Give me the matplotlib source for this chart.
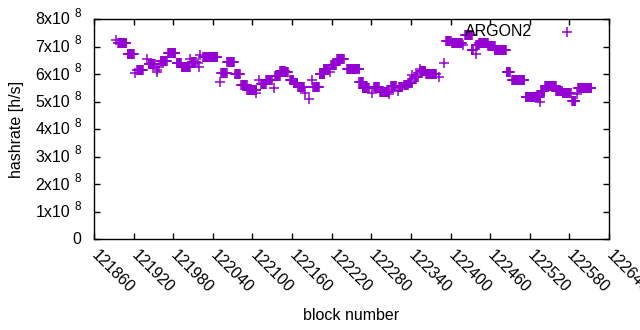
"""
Hashrate per block (ARGON2), gnuplot-like look
"""

import numpy as np
import matplotlib
matplotlib.use("Agg")
import matplotlib.pyplot as plt

# runs of blocks with the same hashrate: first block, number of blocks, hashrate (x1e8 h/s)
run_start = [121894, 121897, 121911, 121922, 121925, 121940, 121943, 121955, 121956, 121959,
             121961, 121972, 121985, 121993, 122006, 122008, 122018, 122019, 122021, 122025,
             122051, 122053, 122062, 122074, 122083, 122092, 122105, 122110, 122113, 122121,
             122132, 122134, 122142, 122149, 122157, 122163, 122169, 122180, 122185, 122190,
             122192, 122202, 122208, 122218, 122219, 122228, 122243, 122262, 122267, 122281,
             122284, 122293, 122307, 122310, 122320, 122322, 122330, 122336, 122342, 122345,
             122353, 122354, 122363, 122383, 122390, 122393, 122402, 122419, 122422, 122432,
             122438, 122439, 122443, 122457, 122467, 122485, 122493, 122514, 122535, 122537,
             122543, 122560, 122570, 122584, 122591, 122593]
run_len = [1, 13, 10, 1, 10, 1, 10, 1, 1, 1,
           10, 12, 8, 13, 1, 7, 1, 1, 1, 23,
           1, 9, 11, 8, 9, 15, 1, 1, 8, 9,
           1, 8, 8, 6, 6, 6, 10, 1, 1, 1,
           10, 8, 9, 1, 8, 11, 20, 6, 10, 1,
           8, 15, 1, 8, 1, 6, 6, 6, 1, 6,
           1, 9, 16, 1, 1, 8, 16, 1, 11, 3,
           1, 5, 14, 11, 18, 6, 20, 22, 1, 6,
           17, 10, 13, 6, 1, 21]
run_val = [7.24, 7.12, 6.73, 6.05, 6.15, 6.53, 6.36, 6.15, 6.07, 6.27,
           6.48, 6.75, 6.39, 6.24, 6.53, 6.45, 6.39, 6.25, 6.69, 6.61,
           5.72, 6.02, 6.42, 6.00, 5.60, 5.42, 5.32, 5.78, 5.64, 5.78,
           5.48, 5.93, 6.12, 6.06, 5.78, 5.68, 5.54, 5.32, 5.08, 5.78,
           5.52, 6.00, 6.20, 6.08, 6.33, 6.53, 6.20, 5.72, 5.48, 5.32,
           5.52, 5.36, 5.27, 5.56, 5.39, 5.52, 5.60, 5.68, 5.96, 5.88,
           6.20, 6.12, 6.00, 5.90, 6.39, 7.19, 7.14, 7.05, 7.42, 6.87,
           6.73, 7.05, 7.14, 7.03, 6.87, 6.06, 5.77, 5.18, 4.99, 5.40,
           5.56, 5.38, 5.32, 5.02, 5.26, 5.48]

x_ticks = list(range(121860, 122641, 60))
y_ticks = list(range(0, 9))   # in units of 1e8

# expand the runs to one point per block
blocks = np.concatenate([s + np.arange(n) for s, n in zip(run_start, run_len)])
hashrate = np.repeat(np.array(run_val) * 1e8, run_len)

plt.rcParams['font.family'] = ['Liberation Sans', 'DejaVu Sans']

color = '#9400d3'
fs = 11.5
px = 0.72  # points per pixel at dpi 100

fig = plt.figure(figsize=(6.4, 3.3), dpi=100)
ax = fig.add_axes([94 / 640, 1 - 239 / 330, 515 / 640, 220 / 330])

ax.plot(blocks, hashrate, linestyle='none', marker='+', markersize=6.5,
        markeredgewidth=1.1, color=color)

ax.set_xlim(x_ticks[0], x_ticks[-1])
ax.set_ylim(0, 8e8)
ax.set_xticks(x_ticks)
ax.set_yticks([v * 1e8 for v in y_ticks])
ax.set_yticklabels([])

ax.tick_params(direction='in', length=4.5, width=1, top=True, right=True,
               labelsize=fs, colors='black')
ax.tick_params(axis='x', pad=10)
for lab in ax.get_xticklabels():
    lab.set_rotation(-45)
    lab.set_ha('left')
    lab.set_va('center')
    lab.set_rotation_mode('anchor')

# y tick labels as "Nx10" with a raised exponent, like gnuplot's x10^{8}
ytrans = ax.get_yaxis_transform()
for n in y_ticks:
    if n == 0:
        ax.annotate('0', xy=(0, 0), xycoords=ytrans, xytext=(-13 * px, 0),
                    textcoords='offset points', ha='right', va='center', fontsize=fs)
        continue
    ax.annotate('%dx10' % n, xy=(0, n * 1e8), xycoords=ytrans, xytext=(-24 * px, -1 * px),
                textcoords='offset points', ha='right', va='center', fontsize=fs)
    ax.annotate('8', xy=(0, n * 1e8), xycoords=ytrans, xytext=(-13 * px, 5 * px),
                textcoords='offset points', ha='right', va='center', fontsize=8.5)

for sp in ax.spines.values():
    sp.set_linewidth(1)

ax.set_xlabel('block number', fontsize=fs)
ax.set_ylabel('hashrate [h/s]', fontsize=fs)
ax.xaxis.set_label_coords(0.5, -0.315)
ax.yaxis.set_label_coords(-0.136, 0.5)

# gnuplot style key: text, then sample point
ax.text(0.8505, 0.941, 'ARGON2', transform=ax.transAxes, ha='right', va='center',
        fontsize=fs)
ax.plot([0.9184], [0.941], transform=ax.transAxes, marker='+', markersize=6.5,
        markeredgewidth=1.1, color=color, clip_on=False)

fig.savefig('out.png', dpi=100, facecolor='white')
